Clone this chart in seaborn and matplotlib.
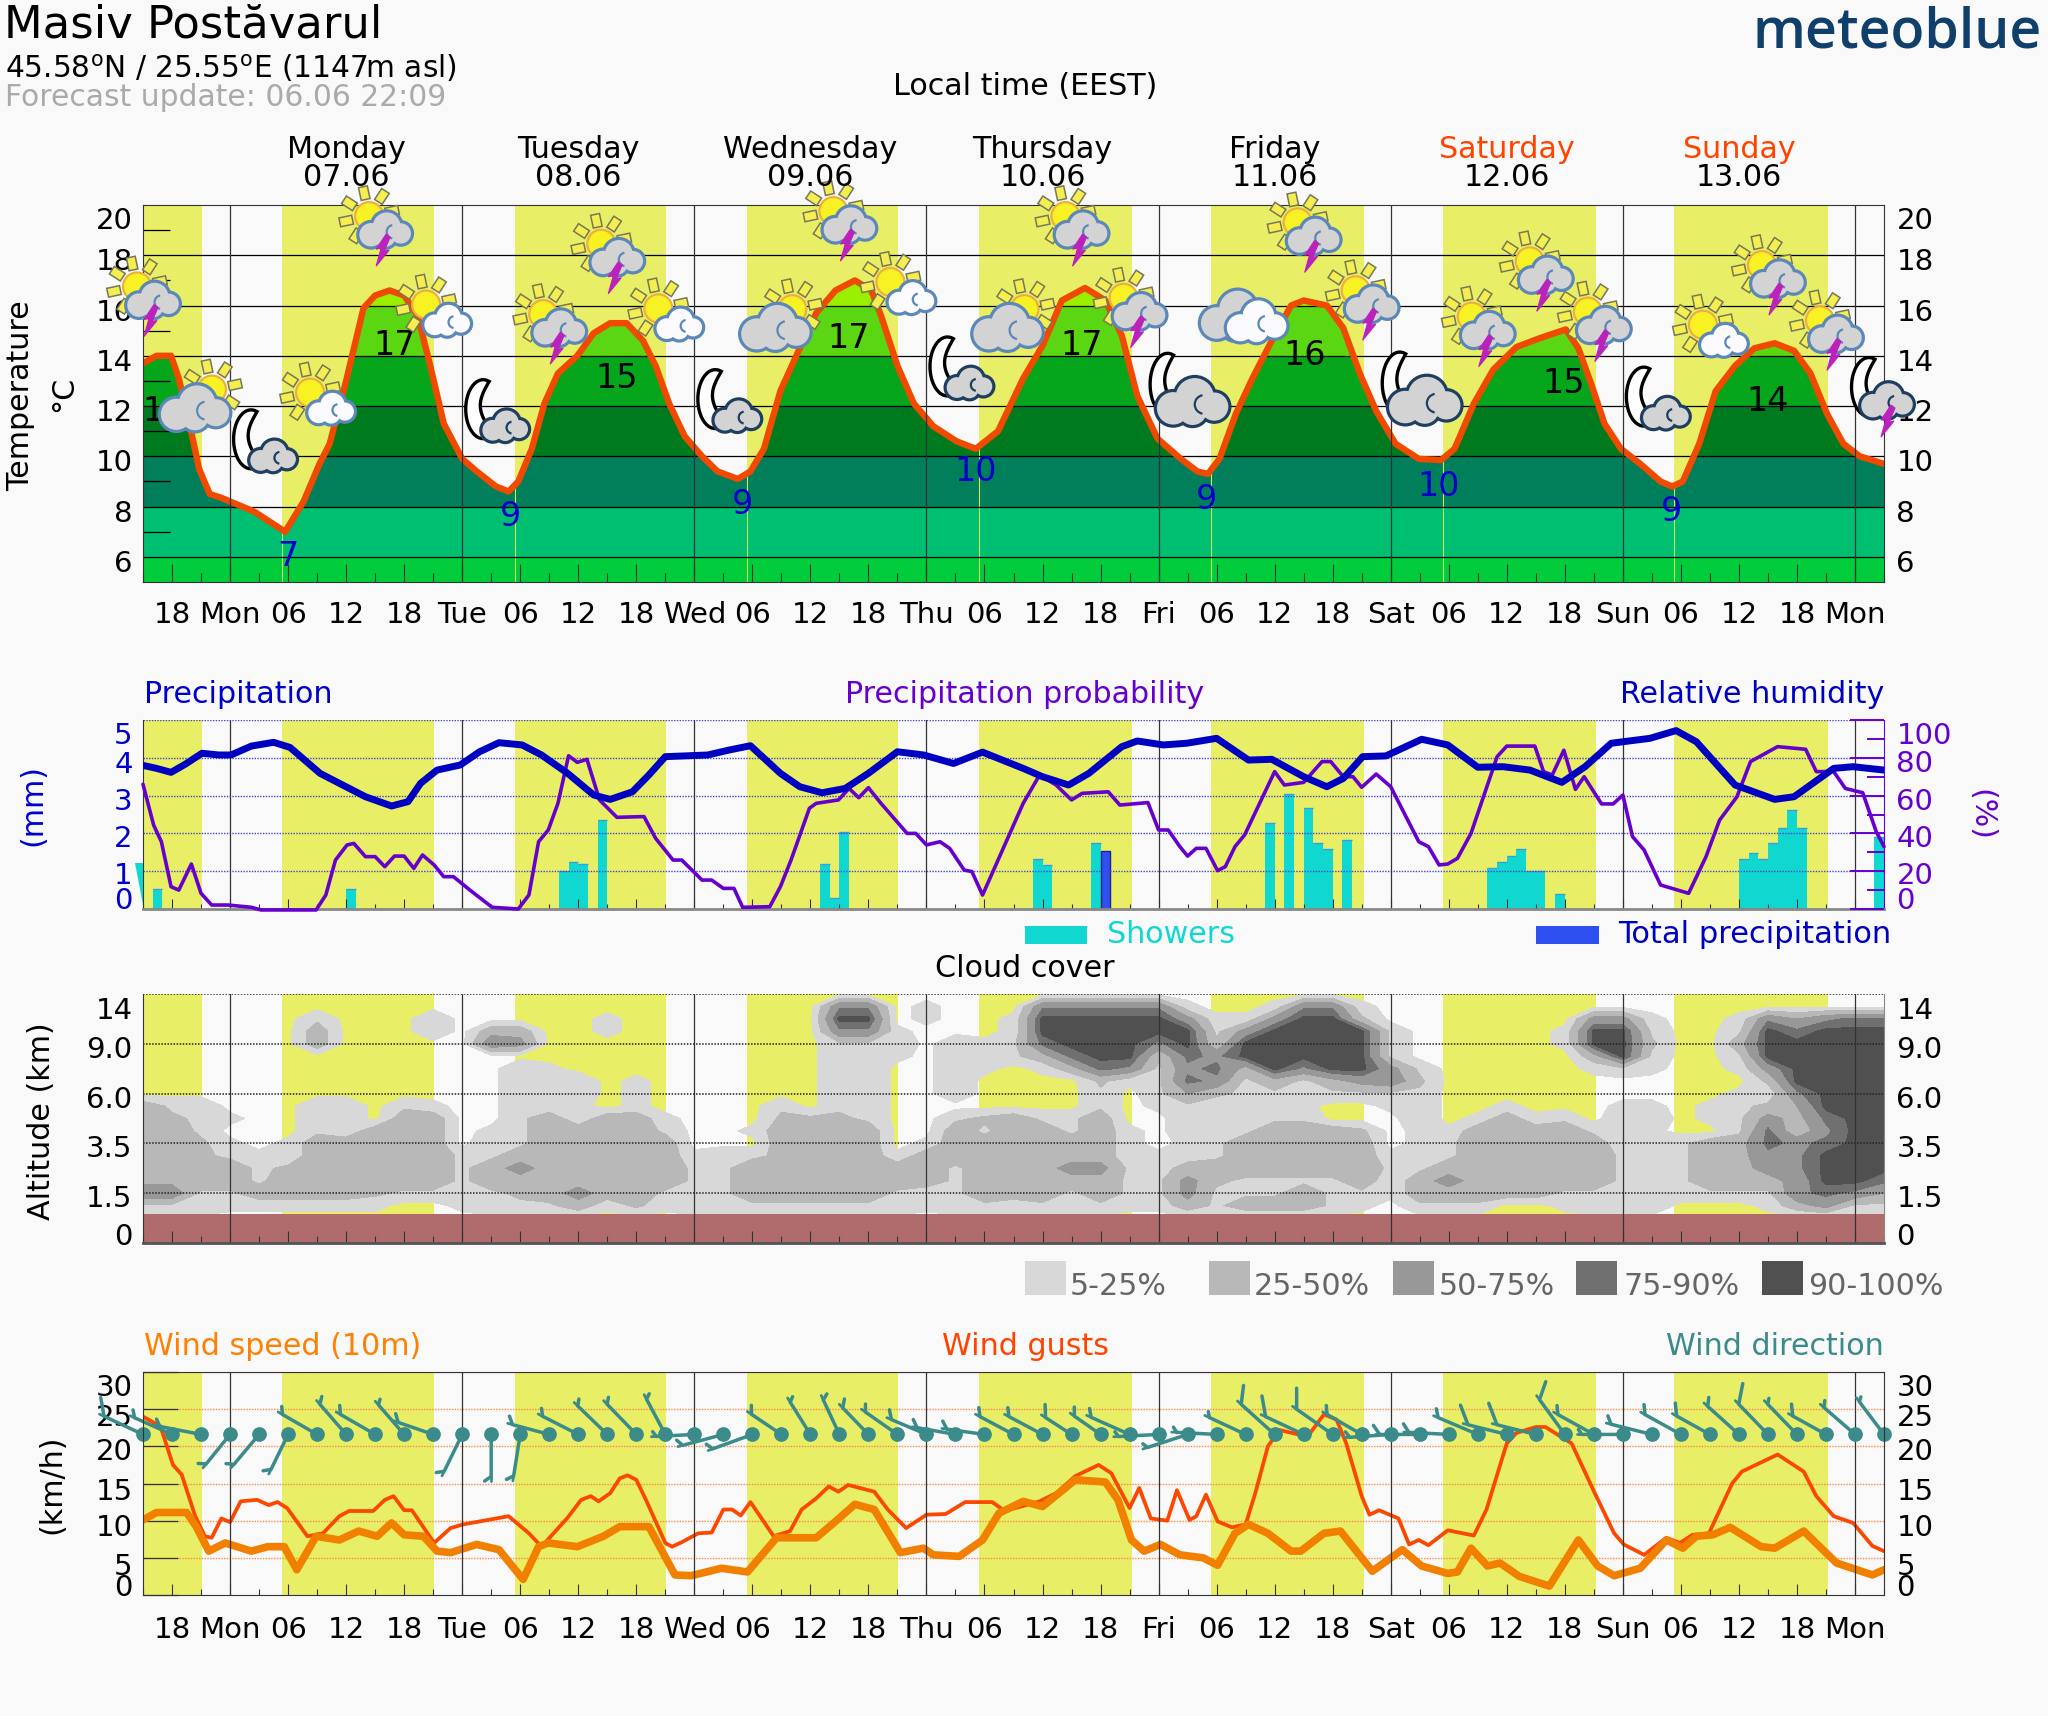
import numpy as np
import matplotlib
matplotlib.use("Agg")
import matplotlib.pyplot as plt
import seaborn as sns
from matplotlib.patches import Circle, Polygon, Rectangle, Arc
from matplotlib.lines import Line2D
from matplotlib.transforms import IdentityTransform, ScaledTranslation, blended_transform_factory

# hours are counted from Monday 07.06 00:00
sunrise = [-33, 5.4, 29.5, 53.4, 77.4, 101.4, 125.4, 149.3]
sunset = [-2.9, 21.1, 45.1, 69.1, 93.2, 117.2, 141.2, 165.2]
tick_hours = list(range(-6, 169, 6))
tick_labels = ["18", "Mon", "06", "12", "18", "Tue", "06", "12", "18", "Wed", "06", "12", "18", "Thu", "06", "12", "18",
               "Fri", "06", "12", "18", "Sat", "06", "12", "18", "Sun", "06", "12", "18", "Mon"]
day_names = ["Monday", "Tuesday", "Wednesday", "Thursday", "Friday", "Saturday", "Sunday"]
day_dates = ["07.06", "08.06", "09.06", "10.06", "11.06", "12.06", "13.06"]

temp_h = [-9, -7.6, -6.1, -5.3, -4.3, -3.2, -2.1, -0.9, 2.5, 5.7, 7.6, 9.25, 10.3, 12, 13.8, 15, 16.5, 18, 19.4, 20.7, 22.1,
          24, 25.5, 27.5, 28.8, 29.8, 31.2, 32.5, 33.9, 35.9, 37.6, 39.3, 41, 42.7, 44, 45.4, 47, 48.8, 50.4, 52.5, 53.8,
          55.2, 56.9, 58.9, 60.6, 62.6, 64.6, 66.3, 67.3, 69, 70.7, 72.7, 75.1, 77.1, 79.4, 82, 84, 86, 88.4, 90.5, 92.2,
          93.8, 95.9, 98.3, 100, 101.1, 102.3, 104, 105.7, 107.7, 109.7, 111, 113.4, 115.1, 116.8, 118.5, 120.5, 122.9,
          125.2, 126.6, 128.6, 130.6, 133, 135.4, 138.1, 139.4, 140.8, 142.1, 143.8, 145.8, 147.9, 149.1, 150.2, 151.9,
          153.6, 155.6, 157.6, 159.7, 161.7, 163.4, 165.1, 166.8, 168.5, 171]
temp_c = [13.7, 14.0, 14.0, 13.1, 11.5, 9.5, 8.5, 8.35, 7.8, 7.0, 8.2, 9.7, 10.5, 13.0, 15.9, 16.4, 16.6, 16.4, 15.6, 13.6, 11.3,
          9.9, 9.4, 8.8, 8.6, 9.0, 10.3, 12.1, 13.3, 14.0, 14.9, 15.3, 15.3, 14.6, 13.6, 12.1, 10.8, 10.0, 9.4, 9.1, 9.4,
          10.3, 12.6, 14.3, 15.7, 16.6, 17.0, 16.6, 15.6, 13.6, 12.1, 11.2, 10.6, 10.3, 11.0, 13.1, 14.4, 16.2, 16.7, 16.2, 14.8,
          12.4, 10.7, 9.9, 9.4, 9.3, 9.9, 11.7, 13.1, 14.6, 16.0, 16.2, 16.0, 15.1, 13.3, 11.8, 10.5, 9.9,
          9.85, 10.3, 12.1, 13.45, 14.35, 14.7, 15.05, 14.3, 12.8, 11.3, 10.3, 9.7, 9.0, 8.8, 9.0, 10.5,
          12.6, 13.6, 14.3, 14.5, 14.2, 13.3, 11.7, 10.5, 10.0, 9.7]
temp_bands = [5, 6, 8, 10, 12, 14, 16, 18]
band_colors = ["#00CC3C", "#00BF70", "#007F5A", "#007A1E", "#05A51C", "#5AD612", "#9AEE00"]

max_h = [-6.9, 17, 40, 64, 88, 111.1, 137.9, 159]
max_y = [11.8, 14.4, 13.1, 14.7, 14.4, 14.0, 12.9, 12.2]
max_labels = ["14", "17", "15", "17", "17", "16", "15", "14"]
min_h = [6, 29, 53, 77.1, 101, 125, 149]
min_y = [6.0, 7.6, 8.1, 9.4, 8.3, 8.8, 7.8]
min_labels = ["7", "9", "9", "10", "9", "10", "9"]

icon_hours = list(range(-9, 172, 6))
icon_kinds = list("ACDBABDAABDCABDCAAFEAAFAAADBAAG")
icon_temps = [16.2, 11.9, 10.0, 11.9, 19.0, 15.4, 11.2, 15.1, 17.9, 15.25, 11.6, 15.1, 19.2, 16.3, 12.9, 15.1, 19.0, 15.75,
              12.15, 15.6, 18.75, 16.05, 12.2, 15.0, 17.2, 15.2, 11.7, 14.6, 17.05, 14.85, 12.2]

humid_h = [-9, -7.6, -6.1, -4.6, -2.9, -1.2, 0.1, 2.2, 4.5, 6.2, 9.3, 11.3, 14, 16.7, 18.4, 19.7, 21.4, 23.8, 25.8, 27.8, 30.2,
           32.2, 34.9, 37.6, 39.3, 41.6, 43.3, 45, 47, 49.4, 51.5, 53.8, 56.9, 58.9, 61.2, 63.6, 66, 69, 71.7, 74.8, 77.8,
           82, 84, 86.7, 88.8, 92.2, 93.8, 96.5, 98.9, 102, 105.3, 107.7, 111, 113.4, 115.1, 117.1, 119.5, 123.2, 125.9, 129,
           131.6, 134.4, 137.7, 140.1, 142.8, 146.8, 149.5, 151.6, 155.6, 159.7, 161.7, 165.8, 167.8, 171]
humid_pct = [76, 74.4, 72.3, 76.7, 82.4, 81.5, 81.5, 86.2, 88.2, 85.5, 71.8, 66.5, 59.4, 54.5, 56.8, 66.5, 73.5, 76.2, 83.2, 88, 86.8,
             81.5, 71.8, 60.3, 58, 62, 70.9, 80.6, 81, 81.5, 84, 86.4, 71.8, 64.7, 61.5, 63.8, 71.8, 83.2, 81.5, 77, 83,
             74.4, 70, 65.6, 71.8, 85.9, 88.9, 86.8, 87.7, 90.3, 78.8, 79.2, 70, 64.7, 69.1, 80.6, 81, 89.8, 86.8, 75,
             75.3, 73.5, 67, 75.3, 87.7, 90.3, 94.4, 88.5, 65.6, 58, 59.4, 74.4, 75.3, 73.5]

prob_h = [-9, -7.9, -7.1, -6.1, -5.3, -4, -3, -1.9, -0.2, 2.2, 3.2, 8.9, 9.9, 10.9, 12.1, 12.8, 14, 15, 16, 17, 18, 19, 19.9, 21.1,
          22.1, 23.1, 24.8, 27.1, 29.8, 30.9, 31.9, 32.9, 33.9, 35, 35.9, 36.9, 38.2, 40, 42.8, 44, 45.8, 46.7, 48.8, 49.8, 51,
          52.1, 53, 55.8, 56.9, 58, 59.9, 60.6, 62.9, 64, 65, 66, 67.3, 70, 70.9, 72, 73.4, 74.4, 75.9, 76.7, 77.8, 79.1, 82,
          83.7, 85.4, 87, 88.1, 90.8, 92, 94.9, 96, 97, 98.2, 99, 99.9, 100.9, 102.1, 102.9, 103.9, 104.9, 108, 109, 111, 112.9,
          113.8, 115.1, 116.1, 117, 118.5, 120, 122.9, 123.9, 125, 125.9, 126.9, 128.3, 131, 132, 134.9, 135.8, 136.7, 137.9,
          139.1, 140, 141.8, 143, 144, 145, 146.2, 147.9, 150.8, 152.6, 154, 155.8, 157.2, 160, 162.9, 164, 165.8, 167, 168.8,
          170.2, 171]
prob_pct = [66, 44.4, 35.6, 11.8, 10, 23.8, 8.3, 2.1, 2.1, 0.9, -0.5, -0.5, 7.4, 25.9, 33.9, 34.7, 27.7, 27.7, 22.4, 28, 28, 21.5, 28.6, 23.3,
            17.1, 17.1, 10, 0.9, 0, 7.4, 35.6, 41.8, 55.9, 81.1, 77.6, 79.2, 57.7, 48.5, 48.9, 37.4, 25.9, 25.9, 15.3, 15.3, 10.9,
            10.9, 0.9, 1.2, 11.8, 25.9, 53.3, 55.9, 57.7, 63.8, 58.9, 64.2, 55.9, 40, 40, 33.9, 35.6, 32.1, 20.6, 19.8, 7.4, 22.4, 55.9,
            70.9, 65.6, 57.7, 61.2, 62, 55, 56.3, 41.8, 41.8, 33, 28, 32.1, 32.1, 20.3, 22.4, 33, 39.2, 72.7, 65.6, 67, 78,
            78, 70, 70, 64.4, 71.4, 64.7, 35.6, 33, 23.3, 23.8, 26.8, 40, 80.6, 86.2, 86.2, 72.7, 70.9, 84,
            63.3, 70, 55.6, 55.6, 60.3, 38.3, 31.2, 12.7, 8.3, 27.7, 47, 59.4, 78, 85.9, 84.5, 72.7, 72.7, 63.8, 61.5,
            40.9, 33]

shower_h = [-8, 12, 34, 35, 36, 38, 61, 62, 63, 83, 84, 89, 107, 109, 111, 112, 113, 115, 130, 131, 132, 133, 134, 135, 137,
            156, 157, 158, 159, 160, 161, 162, 170]
shower_mm = [0.52, 0.52, 1.0, 1.25, 1.18, 2.35, 1.18, 0.3, 2.03, 1.32, 1.17, 1.74, 2.27, 3.03, 2.66, 1.74, 1.6, 1.82, 1.08, 1.25, 1.4,
             1.6, 1.0, 1.0, 0.41, 1.32, 1.47, 1.32, 1.75, 2.14, 2.61, 2.14, 1.9]
total_h = [90]
total_mm = [1.54]
cut_bar_h = [-9.8, -9, -9]
cut_bar_mm = [1.23, 1.23, 0.1]

# cloud cover in tenths, columns every 3 hours from -9, rows from the top of the axis down
cloud_hours = list(range(-9, 172, 3))
cloud_levels_idx = [5, 4.75, 4.5, 4.25, 4, 3.75, 3.5, 3.25, 3, 2.75, 2.5, 2.25, 2, 1.75, 1.5, 1.25, 1, 0.75, 0.5]
cloud_rows = [
    "0000000000 0000000000 0000000000 0000000000 0000000000 0000000000 0",
    "0000000000 0000000000 0000770100 0777771001 7710000000 0000000000 0",
    "0000002000 2000001000 0000990100 1999996116 9930000000 6610017578 8",
    "0000004000 2044001000 0000771000 1999999269 9992000001 9920029899 9",
    "0000004000 0076000000 0000222021 2899979399 9992000001 9930049999 9",
    "0000000000 0000000000 0000221021 2489938799 9992000000 4920029999 9",
    "0000000000 0002100000 0000220021 0148727849 7996200000 1210016999 9",
    "0000000000 0002220100 0000220020 0003128724 2467300000 0000003999 9",
    "0000000000 0002120100 0000220020 0002025322 2222200000 0000011799 9",
    "4220002202 1002110100 0020220000 0002012122 1001200100 0110123599 9",
    "4321002204 4002414410 0033320023 4224002222 2000201412 0220126489 9",
    "4420002144 4012444420 0144440042 4424102224 4430114444 2210028379 9",
    "4431014444 4022444440 0044440144 4444101244 4440124444 4112448789 9",
    "4432114444 4224444441 2234441444 4444112244 4441224444 4222447799 9",
    "4444234444 4246444442 2444444424 3466223444 4442244444 4222446799 9",
    "4444244444 4244444442 2444444424 3444226322 2241464444 4222444699 8",
    "7722444432 2223464422 2444442124 3424226222 4221444442 2222222787 5",
    "2221111110 0122241312 2222222122 2222114244 4210222001 2220001462 2",
    "0000000000 0000000000 0000000000 0000000000 0000000000 0000000000 0",
]
cloud_bins = [5, 25, 50, 75, 90, 100]
cloud_colors = ["#D8D8D8", "#B8B8B8", "#989898", "#707070", "#505050"]
cloud_legend = ["5-25%", "25-50%", "50-75%", "75-90%", "90-100%"]
alt_labels = ["0", "1.5", "3.5", "6.0", "9.0", "14"]

gust_h = [-9, -7.2, -5.9, -5, -3.6, -2.6, -1.9, -0.9, 0, 1.1, 2.8, 4, 4.9, 5.9, 8, 9.6, 11.3, 12.3, 14.8, 16, 16.9, 18, 18.8, 21.1, 22.8,
          24.1, 28.8, 30.9, 32.2, 34.9, 36.3, 37.3, 38.1, 39.3, 40.3, 41.1, 42, 43, 45, 45.7, 46.7, 48.4, 49.8, 51, 51.9, 52.8, 53.8,
          54.8, 56.2, 57.9, 59.1, 60.6, 61.9, 62.9, 63.9, 66.6, 68, 69.9, 72, 74, 76, 78.8, 80.1, 83.7, 85.4, 87.4, 89.8, 91.1, 92.2,
          93, 94, 95.2, 96.9, 97.9, 99.2, 99.9, 100.9, 102.1, 103.6, 105, 106, 107.3, 108.5, 111.4, 113.1, 114.4, 115.4, 117, 117.8,
          118.8, 120.8, 121.9, 122.9, 123.9, 125.9, 128.6, 129.9, 132, 133, 135, 136, 138.7, 141.1, 143.1, 144.1, 146.2, 148.5,
          149.9, 151.2, 152.9, 155.3, 156.3, 160, 162.7, 164, 165.8, 167.8, 169.8, 171]
gust_kmh = [24, 22.7, 17.5, 16.2, 10.6, 7.9, 7.7, 10.3, 9.8, 12.6, 12.8, 12.1, 12.5, 11.7, 7.9, 8.3, 10.6, 11.3, 11.3, 12.8, 13.3, 11.4, 11.4, 7, 9,
            9.5, 10.6, 8.3, 6.5, 10.4, 12.8, 13.3, 12.6, 13.7, 15.7, 16.1, 15.5, 12.8, 7, 6.5, 7.1, 8.3, 8.4, 11.5, 11.5, 10.7, 12.5,
            10.6, 7.9, 8.6, 11.5, 13, 14.6, 13.9, 14.8, 13.9, 11.5, 9, 10.8, 10.9, 12.5, 12.5, 11.3, 12.6, 13.7, 16, 17.5, 16.4, 13.7,
            11.7, 14.4, 10.3, 10, 14.1, 10.1, 10.6, 13.5, 9.9, 9.1, 9.5, 13.7, 20, 22.2, 21.3, 24.3, 23.6, 20.4, 13.3, 10.8,
            11.4, 10.3, 6.8, 7.4, 6.7, 8.7, 8, 11.5, 20.4, 21.8, 22.6, 22.6, 20.4, 13.7, 8.3, 6.8, 5.4, 7.7,
            7, 8.1, 8.3, 15, 16.6, 18.9, 16.6, 13.3, 10.6, 9.7, 6.6, 5.9]
speed_h = [-9, -7.6, -4.5, -3.5, -2.2, -0.5, 2.2, 3.9, 5.6, 6.9, 8.9, 11.3, 13.3, 15.2, 16.7, 18, 20, 21.4, 22.8, 25.5, 27.8, 30.3, 31.9, 32.9,
           35.9, 38.6, 40.3, 43.3, 46, 47.7, 50.8, 53.5, 56.5, 60.6, 62.6, 64.6, 66.6, 69.3, 71.7, 72.7, 75.4, 77.8, 79.5, 82, 84, 87.4,
           90.5, 91.8, 93.2, 94.5, 96.2, 98.2, 100.6, 102.1, 103.9, 105.3, 107.3, 109.7, 110.7, 113.1, 114.8, 118.1, 121.2, 123.2, 125.9,
           126.9, 128.3, 130, 131.3, 133.3, 136.4, 139.4, 141.4, 143.1, 145.8, 148.5, 150.2, 151.6, 153.3, 155.1, 158.3, 159.7, 162.7,
           166.1, 169.8, 171]
speed_kmh = [10.1, 11.1, 11.1, 9.2, 5.9, 7, 5.9, 6.5, 6.5, 3.4, 7.9, 7.4, 8.6, 7.9, 9.7, 8.1, 7.9, 5.9, 5.7, 6.8, 6.1, 2.1, 6.5, 7,
             6.5, 7.9, 9.2, 9.2, 2.7, 2.6, 3.6, 3.1, 7.7, 7.7, 9.9, 12.2, 11.5, 5.7, 6.3, 5.4, 5.2, 7.4, 11, 12.6, 11.9, 15.5,
             15.2, 12.8, 7.4, 5.9, 6.8, 5.4, 5, 4, 8.3, 9.5, 8.3, 5.9, 5.9, 8.3, 8.6, 3.2, 6.1, 3.9, 2.9,
             3.1, 6.3, 3.9, 4.3, 2.5, 1.2, 7.4, 3.9, 2.6, 3.6, 7.4, 6.3, 7.9, 8.1, 9.1, 6.5, 6.3, 8.6,
             4.3, 2.7, 3.4]
wind_h = list(range(-9, 172, 3))
wind_dir = [295, 294, 281, 219, 220, 206, 300, 319, 300, 319, 289, 206, 180, 189, 285, 297, 314, 316, 332, 267, 255, 250, 304, 328, 335,
            316, 305, 293, 280, 278, 298, 298, 303, 305, 294, 267, 252, 273, 295, 312, 295, 305, 300, 266, 270, 273, 293, 284, 284, 324,
            299, 270, 284, 299, 299, 312, 316, 316, 299, 311, 323]
wind_len = [43, 41, 42, 38, 39, 39, 40, 40, 40, 39, 37, 41, 42, 42, 38, 40, 41, 42, 40, 38, 42, 42, 36, 38, 38,
            37, 39, 38, 39, 38, 38, 38, 31, 32, 42, 40, 42, 40, 40, 45, 42, 44, 40, 41, 40, 40, 43, 40, 40, 43,
            41, 41, 42, 41, 38, 42, 42, 42, 38, 41, 41]
wind_tip = [19, 8, 8, 8, 8, 8, 8, 8, 9, 6, 9, 8, 8, 8, 9, 8, 7, 7, 6, 6, 8, 8, 9, 6, 7,
            9, 8, 10, 9, 9, 9, 9, 13, 9, 9, 6, 6, 6, 6, 19, 21, 21, 9, 7, 11, 10, 9, 21, 23, 19,
            9, 6, 9, 10, 13, 9, 21, 6, 12, 7, 5]
wind_marker_level = 21.6

W, H = 2048, 1716
BG = "#F9F9F9"
YELLOW = "#E8EF66"
FS = 21.7
TICK_FS = 21

sns.set_theme(style="white", rc={"font.family": "DejaVu Sans", "axes.facecolor": BG, "figure.facecolor": BG,
                                 "text.color": "black", "xtick.color": "black", "ytick.color": "black",
                                 "axes.labelcolor": "black"})
fig = plt.figure(figsize=(W / 100, H / 100), dpi=100)


def make_axes(top, bottom):
    return fig.add_axes([143 / W, 1 - bottom / H, 1741 / W, (bottom - top) / H])


def shift_labels(labels, shifts):
    for lab, dy in zip(labels, shifts):
        lab.set_transform(lab.get_transform() + ScaledTranslation(0, -dy / 100, fig.dpi_scale_trans))


def base_panel(ax, major_len, minor_len):
    ax.set_xlim(-9, 171)
    ax.set_axisbelow(False)
    for a, b in zip(sunrise, sunset):
        ax.axvspan(max(a, -9), b, color=YELLOW, lw=0, zorder=0)
    for d in range(0, 169, 24):
        ax.axvline(d, color="#333333", lw=0.9, zorder=6)
    ax.set_xticks(tick_hours)
    ax.set_xticks(list(range(-9, 172, 6)), minor=True)
    ax.tick_params(axis="x", which="major", direction="in", length=major_len * 0.72, width=0.8, color="#333333", bottom=True)
    ax.tick_params(axis="x", which="minor", direction="in", length=minor_len * 0.72, width=0.8, color="#333333", bottom=True)
    ax.set_xticklabels([])
    for s in ax.spines.values():
        s.set_linewidth(0.8)
        s.set_color("#333333")
        s.set_zorder(7)


def y_axis(ax, ticks, labels, shifts, color="black", major=0, minor_ticks=None, minor=0, tcolor=None, twidth=0.9, pad=7.5):
    ax.set_yticks(ticks)
    ax.set_yticklabels(labels, fontsize=TICK_FS, color=color)
    ax.tick_params(axis="y", which="major", direction="in", length=major * 0.72, pad=pad, width=twidth,
                   color=tcolor or color, left=True, right=True)
    if minor_ticks is not None:
        ax.set_yticks(minor_ticks, minor=True)
        ax.tick_params(axis="y", which="minor", direction="in", length=minor * 0.72, width=twidth,
                       color=tcolor or color, left=True, right=True)
    shift_labels(ax.get_yticklabels(), shifts)


def twin_axis(ax):
    tw = ax.twinx()
    tw.set_ylim(ax.get_ylim())
    tw.patch.set_visible(False)
    tw.spines[:].set_visible(False)
    tw.grid(False)
    return tw


def show_hours(ax, pad):
    ax.set_xticklabels(tick_labels, fontsize=TICK_FS)
    ax.tick_params(axis="x", which="major", pad=pad, labelbottom=True)


# pixels on the figure, y counted from the top
def ftext(x, y, s, **kw):
    kw.setdefault("fontsize", FS)
    kw.setdefault("va", "baseline")
    return fig.text(x / W, 1 - y / H, s, **kw)


# ---- weather symbols, drawn in pixels round a point of the temperature axis
def add(ax, patch, z):
    patch.set_transform(IdentityTransform())
    patch.set_clip_on(False)
    patch.set_zorder(z)
    ax.add_artist(patch)


def sun(ax, x, y, z):
    for a in range(0, 360, 45):
        ang = np.deg2rad(a + 12)
        c, s = np.cos(ang), np.sin(ang)
        pts = [(x + 17 * c - 4.5 * s, y + 17 * s + 4.5 * c), (x + 30 * c - 4.5 * s, y + 30 * s + 4.5 * c),
               (x + 30 * c + 4.5 * s, y + 30 * s - 4.5 * c), (x + 17 * c + 4.5 * s, y + 17 * s - 4.5 * c)]
        add(ax, Polygon(pts, closed=True, fc="#F4EE50", ec="#77775A", lw=1.1), z)
    add(ax, Circle((x, y), 14, fc="#F8F224", ec="#EDB040", lw=1.6), z)


def cloud(ax, x, y, w, h, fill, edge, z):
    lobes = [(-0.27, -0.14, 0.23), (0.03, 0.12, 0.27), (0.30, -0.10, 0.20), (0.0, -0.20, 0.20)]
    for grow, col in ((3.2, edge), (0, fill)):
        for lx, ly, r in lobes:
            add(ax, Circle((x + lx * w, y + ly * h), r * w * 0.98 + grow, fc=col, ec="none", lw=0), z + 0.01 * (grow == 0))
    add(ax, Arc((x + 0.16 * w, y - 0.05 * h), 0.26 * w, 0.26 * w, theta1=100, theta2=260, ec=edge, lw=1.6), z + 0.02)


def bolt(ax, x, y, z):
    pts = [(4, 16), (-6, 1), (-1, 2), (-6, -16), (7, 0), (2, -1), (8, 13)]
    add(ax, Polygon([(x + a, y + b) for a, b in pts], closed=True, fc="#BB22BB", ec="#BB22BB", lw=0.8), z)


def moon(ax, x, y, w, h, z):
    rx, ry = w / 2, h / 2
    t = np.deg2rad(np.linspace(70, 305, 30))
    outer = np.c_[rx * np.cos(t), ry * np.sin(t)]
    # the inner edge runs from the lower tip back to the upper tip
    s = np.linspace(0, 1, 20)
    lo, hi = outer[-1], outer[0]
    inner_x = lo[0] + (hi[0] - lo[0]) * s - 0.62 * rx * np.sin(np.pi * s)
    inner_y = lo[1] + (hi[1] - lo[1]) * s
    pts = np.vstack([outer, np.c_[inner_x, inner_y]]) + [x, y]
    add(ax, Polygon(pts, closed=True, fc="#FFFFFF", ec="black", lw=2.4), z)


BLUE_EDGE, DARK_EDGE, GREY, WHITE = "#5B88B8", "#1F3F60", "#D3D3D3", "#FBFBFF"


def icon(ax, kind, hour, temp):
    px, py = ax.transData.transform((hour, temp))
    z = 8
    if kind == "A":
        sun(ax, px - 6, py + 14, z)
        cloud(ax, px + 10, py, 52, 33, GREY, BLUE_EDGE, z + 1)
        bolt(ax, px + 7, py - 20, z + 2)
    elif kind == "B":
        sun(ax, px - 7, py + 16, z)
        cloud(ax, px + 14, py, 46, 30, WHITE, BLUE_EDGE, z + 1)
    elif kind == "C":
        sun(ax, px + 11, py + 19, z)
        cloud(ax, px - 6, py, 69, 41, GREY, BLUE_EDGE, z + 1)
    elif kind == "D":
        moon(ax, px - 8, py + 17, 35, 59, z)
        cloud(ax, px + 14, py, 46, 29, GREY, DARK_EDGE, z + 1)
    elif kind == "E":
        cloud(ax, px - 10, py, 70, 53, GREY, BLUE_EDGE, z)
        cloud(ax, px + 11, py - 6, 60, 44, WHITE, BLUE_EDGE, z + 1)
    elif kind == "F":
        moon(ax, px - 20, py + 18, 35, 62, z)
        cloud(ax, px + 5, py, 72, 43, GREY, DARK_EDGE, z + 1)
    elif kind == "G":
        moon(ax, px - 15, py + 14, 35, 59, z)
        cloud(ax, px + 3, py, 52, 33, GREY, DARK_EDGE, z + 1)
        bolt(ax, px + 3, py - 20, z + 2)


# ---- temperature
ax1 = make_axes(205, 582)
ax1.set_ylim(5, 20)
base_panel(ax1, 18, 9)
under = ax1.fill_between(temp_h, 5, temp_c, color="none")
for lo, hi, col in zip(temp_bands[:-1], temp_bands[1:], band_colors):
    band = ax1.axhspan(lo, hi, color=col, lw=0, zorder=1)
    band.set_clip_path(under.get_paths()[0], under.get_transform())
for a in sunrise[1:]:
    ax1.vlines(a, 5, np.interp(a, temp_h, temp_c), color="#C8E860", lw=0.8, zorder=2)
ax1.hlines(range(6, 19, 2), -9, 171, color="black", lw=0.9, zorder=3)
sns.lineplot(x=temp_h, y=temp_c, ax=ax1, color="#F04A00", lw=4.6, legend=False, zorder=5, estimator=None)
temp_ticks = list(range(6, 21, 2))
temp_tick_labels = [str(v) for v in temp_ticks]
temp_shifts = [4, 4, 4, 4, 4, 4, 4, 13]
y_axis(ax1, temp_ticks, temp_tick_labels, temp_shifts, major=0, minor_ticks=list(range(7, 20, 2)), minor=27)
show_hours(ax1, 14)
tw1 = twin_axis(ax1)
y_axis(tw1, temp_ticks, temp_tick_labels, temp_shifts, major=0, pad=9)
for h, y, s in zip(max_h, max_y, max_labels):
    ax1.text(h, y, s, fontsize=24, color="black", ha="center", va="center", zorder=6)
for h, y, s in zip(min_h, min_y, min_labels):
    ax1.text(h, y, s, fontsize=24, color="#0000CC", ha="center", va="center", zorder=6)

# ---- precipitation
ax2 = make_axes(720, 909)
ax2.set_ylim(0, 5)
base_panel(ax2, 10, 5)
ax2.bar(shower_h, shower_mm, width=1, align="edge", color="#10D8D0", lw=0, zorder=2)
ax2.hlines(shower_mm, shower_h, [h + 1 for h in shower_h], color="#3C9CDC", lw=1, zorder=2.1)
ax2.bar(total_h, total_mm, width=1, align="edge", color="#2F50F0", edgecolor="#222288", lw=1, zorder=2)
ax2.fill(cut_bar_h, cut_bar_mm, color="#10D8D0", lw=0, clip_on=False, zorder=2)
ax2.hlines(range(1, 6), -9, 171, color="#4444CC", lw=1, ls=(0, (1, 1)), zorder=3)
y_axis(ax2, list(range(6)), [str(v) for v in range(6)], [-11, 2, 3, 3, 4, 13], color="#0000CC", major=0)
ax2.tick_params(axis="y", which="major", right=False)
ax2.spines["bottom"].set_color("#888888")
ax2.spines["bottom"].set_linewidth(2)
ax2.spines["top"].set_visible(False)
ax2.spines["right"].set_color("#6600CC")
tw2 = twin_axis(ax2)
tw2.set_ylim(0, 100)
y_axis(tw2, list(range(0, 101, 20)), [str(v) for v in range(0, 101, 20)], [-11, 2, 3, 3, 3, 13], color="#6600CC",
       major=34, minor_ticks=list(range(10, 100, 20)), minor=17, twidth=1.4, pad=9)
tw2.tick_params(axis="y", which="both", left=False)
sns.lineplot(x=prob_h, y=prob_pct, ax=tw2, color="#6600CC", lw=2.6, legend=False, estimator=None, zorder=4, clip_on=False)
sns.lineplot(x=humid_h, y=humid_pct, ax=tw2, color="#0000C0", lw=5.0, legend=False, estimator=None, zorder=5)
tw2.set_xlim(-9, 171)
tw2.set_xlabel("")
tw2.set_ylabel("")

# ---- cloud cover
ax3 = make_axes(994, 1243)
ax3.set_ylim(0, 5)
base_panel(ax3, 12, 7)
grid = np.array([[int(c) for c in row.replace(" ", "")] for row in cloud_rows], dtype=float) * 10
grid[grid == 90] = 95
ax3.contourf(cloud_hours, cloud_levels_idx[::-1], grid[::-1], levels=cloud_bins, colors=cloud_colors, zorder=1)
ax3.axhspan(0, 0.58, color="#B06C6C", lw=0, zorder=2)
ax3.hlines(range(1, 6), -9, 171, color="#222222", lw=1.1, ls=(0, (1, 1)), zorder=3)
y_axis(ax3, list(range(6)), alt_labels, [-9, 3, 3, 3, 3, 14], major=0)
ax3.spines["bottom"].set_color("#555555")
ax3.spines["bottom"].set_linewidth(2)
ax3.spines["top"].set_visible(False)
ax3.spines["right"].set_color("#888888")
tw3 = twin_axis(ax3)
y_axis(tw3, list(range(6)), alt_labels, [-9, 3, 3, 3, 3, 14], major=0, pad=9)

# ---- wind
ax4 = make_axes(1372, 1595)
ax4.set_ylim(0, 30)
base_panel(ax4, 11, 6)
ax4.hlines(range(5, 31, 5), -9, 171, color="#FF8844", lw=1, ls=(0, (1, 1)), zorder=2)
sns.lineplot(x=gust_h, y=gust_kmh, ax=ax4, color="#FA4800", lw=2.7, legend=False, estimator=None, zorder=3)
sns.lineplot(x=speed_h, y=speed_kmh, ax=ax4, color="#F28000", lw=5.5, legend=False, estimator=None, zorder=4)
ax4.set_xlim(-9, 171)
wind_ticks = list(range(0, 31, 5))
wind_tick_labels = [str(v) for v in wind_ticks]
wind_shifts = [-10, 6, 4, 5, 3, 6, 13]
y_axis(ax4, wind_ticks, wind_tick_labels, wind_shifts, major=35, tcolor="#333333")
show_hours(ax4, 15)
tw4 = twin_axis(ax4)
y_axis(tw4, wind_ticks, wind_tick_labels, wind_shifts, major=0, pad=9)

TEAL = "#3B8B8B"
sns.scatterplot(x=wind_h, y=[wind_marker_level] * len(wind_h), ax=ax4, color=TEAL, s=112, linewidth=0, legend=False,
                zorder=6, clip_on=False)
for h, d, n, t in zip(wind_h, wind_dir, wind_len, wind_tip):
    px, py = ax4.transData.transform((h, wind_marker_level))
    a = np.deg2rad(d)
    ex, ey = px + n * np.sin(a), py + n * np.cos(a)
    b = np.deg2rad(d + 55)
    ax4.add_artist(Line2D([px, ex, ex + t * np.sin(b)], [py, ey, ey + t * np.cos(b)], color=TEAL, lw=2.5,
                          transform=IdentityTransform(), clip_on=False, zorder=6))
    ax4.add_artist(Line2D([ex, ex + 5 * np.sin(a)], [ey, ey + 5 * np.cos(a)], color=TEAL, lw=2.0,
                          transform=IdentityTransform(), clip_on=False, zorder=6))

# weather symbols go last, the axes limits are final here
for k, h, t in zip(icon_kinds, icon_hours, icon_temps):
    icon(ax1, k, h, t)
tw1.set_zorder(ax1.get_zorder() - 1)
ax1.patch.set_visible(True)

# ---- header and other texts
ftext(4, 37, "Masiv Postăvarul", fontsize=32.3)
ftext(5, 78, "45.58$^{\\mathrm{o}}$N / 25.55$^{\\mathrm{o}}$E (1147m asl)", fontsize=21.3)
ftext(5, 106, "Forecast update: 06.06 22:09", color="#AAAAAA", fontsize=21.4)
ftext(1025, 95, "Local time (EEST)", ha="center")
ftext(2042, 47, "meteoblue", ha="right", color="#103F6B", fontsize=40, family="Open Sans", fontweight="semibold")

day_tr = blended_transform_factory(ax1.transData, fig.transFigure)
for i, (name, date) in enumerate(zip(day_names, day_dates)):
    c = "#FF4400" if name in ("Saturday", "Sunday") else "black"
    fig.text(12 + 24 * i, 1 - 158 / H, name, transform=day_tr, ha="center", va="baseline", fontsize=FS, color=c)
    fig.text(12 + 24 * i, 1 - 186 / H, date, transform=day_tr, ha="center", va="baseline", fontsize=FS, color="black")

ftext(21, 396, "Temperature", rotation=90, ha="center", va="center")
ftext(64, 394, "°C", rotation=90, ha="center", va="center")
ftext(33, 805, "(mm)", rotation=90, ha="center", va="center", color="#0000CC")
ftext(1981, 815, "(%)", rotation=270, ha="center", va="center", color="#6600CC")
ftext(42, 1121, "Altitude (km)", rotation=90, ha="center", va="center")
ftext(52, 1484, "(km/h)", rotation=90, ha="center", va="center")

ftext(144, 703, "Precipitation", color="#0000CC")
ftext(1025, 703, "Precipitation probability", color="#6600CC", ha="center")
ftext(1884, 703, "Relative humidity", color="#0000C0", ha="right")
fig.add_artist(Rectangle((1025 / W, 1 - 944 / H), 62 / W, 18 / H, transform=fig.transFigure, fc="#10D8D0", lw=0))
ftext(1107, 943, "Showers", color="#10D8D0")
fig.add_artist(Rectangle((1536 / W, 1 - 944 / H), 63 / W, 18 / H, transform=fig.transFigure, fc="#2F50F0", lw=0))
ftext(1618, 943, "Total precipitation", color="#0000C0", fontsize=22)

ftext(1025, 977, "Cloud cover", ha="center")
box_x = [1025, 1209, 1393, 1576, 1762]
text_x = [1070, 1254, 1439, 1623, 1808]
for bx, tx, col, lab in zip(box_x, text_x, cloud_colors, cloud_legend):
    fig.add_artist(Rectangle((bx / W, 1 - 1295 / H), 41 / W, 34 / H, transform=fig.transFigure, fc=col, lw=0))
    ftext(tx, 1295, lab, color="#666666")

ftext(144, 1355, "Wind speed (10m)", color="#FF8000")
ftext(1025, 1355, "Wind gusts", color="#FF4400", ha="center")
ftext(1884, 1355, "Wind direction", color="#3B8B8B", ha="right")

fig.savefig("out.png", dpi=100, facecolor=BG)
